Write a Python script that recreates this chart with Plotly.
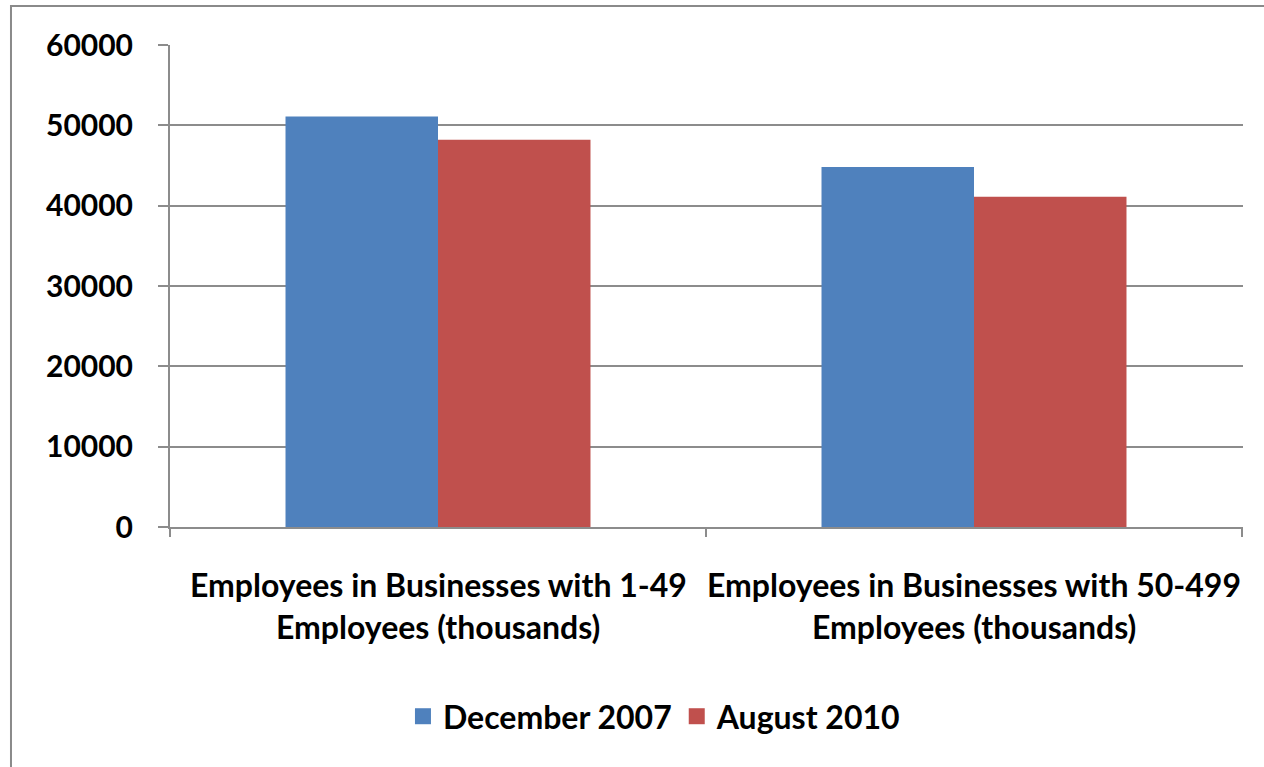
import plotly.graph_objects as go

# Employment by business size, in thousands
categories = ["1-49", "50-499"]
cat_line1 = ["Employees in Businesses with 1-49", "Employees in Businesses with 50-499"]
cat_line2 = ["Employees (thousands)", "Employees (thousands)"]
series_names = ["December 2007", "August 2010"]
dec_2007 = [51100, 44800]
aug_2010 = [48200, 41100]
y_ticks = [0, 10000, 20000, 30000, 40000, 50000, 60000]

colors = ["#4F81BD", "#C0504D"]
FONT = "Lato"
GRID = "#8C8C8C"

fig = go.Figure()
for name, vals, col in zip(series_names, [dec_2007, aug_2010], colors):
    fig.add_trace(go.Bar(x=categories, y=vals, name=name, showlegend=False,
                         marker=dict(color=col, line=dict(width=0))))
# Legend entries with larger square swatches
for name, col in zip(series_names, colors):
    fig.add_trace(go.Scatter(x=[None], y=[None], mode="markers", name=name,
                             marker=dict(symbol="square", size=20, color=col),
                             hoverinfo="skip"))

annotations = []
for cat, l1, l2 in zip(categories, cat_line1, cat_line2):
    annotations.append(dict(x=cat, y=-0.119, xref="x", yref="paper", text=l1,
                            showarrow=False, yanchor="middle",
                            font=dict(family=FONT, size=32, color="black", weight="bold")))
    annotations.append(dict(x=cat, y=-0.206, xref="x", yref="paper", text=l2,
                            showarrow=False, yanchor="middle",
                            font=dict(family=FONT, size=32, color="black", weight="bold")))

fig.update_layout(
    width=1264, height=767,
    margin=dict(l=170, r=21, t=45, b=240, autoexpand=False),
    paper_bgcolor="white", plot_bgcolor="white",
    barmode="group", bargap=0.431, bargroupgap=0,
    font=dict(family=FONT, size=28, color="black"),
    showlegend=True,
    legend=dict(orientation="h", x=0.4515, xanchor="center", y=-0.393, yanchor="middle",
                font=dict(family=FONT, size=32, color="black", weight="bold"),
                itemwidth=30, bgcolor="rgba(0,0,0,0)"),
    annotations=annotations,
    shapes=[dict(type="rect", xref="paper", yref="paper",
                 x0=-0.1482, x1=1.03, y0=-0.52, y1=1.081,
                 line=dict(color="#8A8A8A", width=2), layer="below")],
)

fig.update_xaxes(
    showticklabels=False, showline=True, linecolor=GRID, linewidth=2,
    ticks="outside", tickson="boundaries", ticklen=8, tickwidth=2, tickcolor=GRID,
    showgrid=False,
)
fig.update_yaxes(
    range=[0, 60000], tickvals=y_ticks, tickformat="d",
    showline=True, linecolor=GRID, linewidth=2,
    ticks="outside", ticklen=10, tickwidth=2, tickcolor=GRID,
    showgrid=True, gridcolor=GRID, gridwidth=2, zeroline=False,
    tickfont=dict(family=FONT, size=30, color="black", weight="bold"),
    ticklabelstandoff=19,
)

fig.write_html("out.html")
